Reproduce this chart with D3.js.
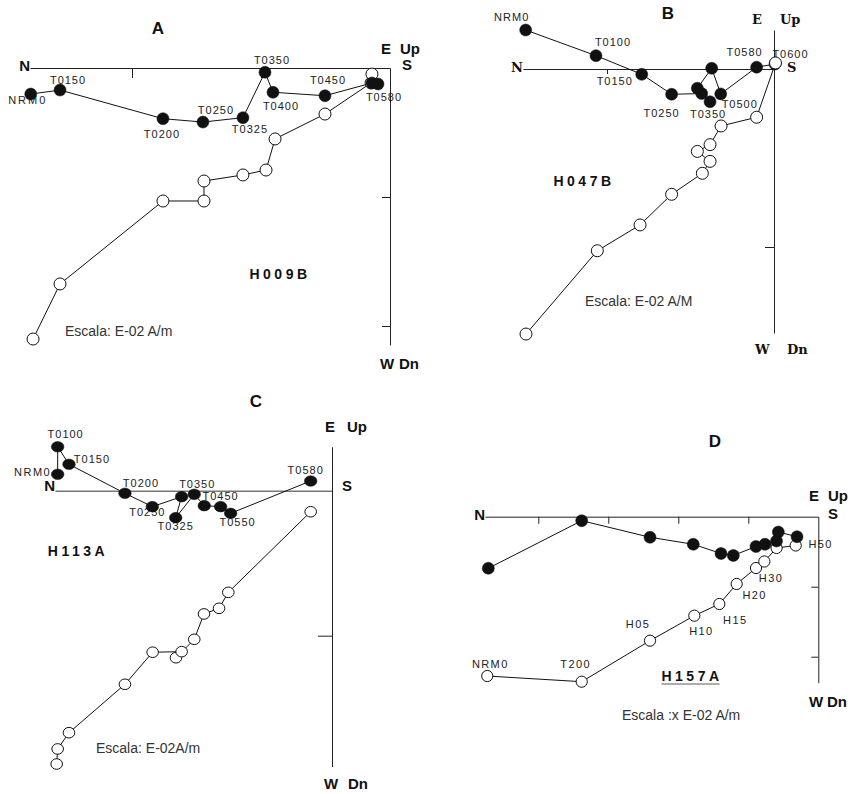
<!DOCTYPE html>
<html><head><meta charset="utf-8">
<script src="https://cdn.jsdelivr.net/npm/d3@7"></script>
<style>body{margin:0;background:#fff}svg{display:block}</style>
</head><body>
<svg id="chart" width="856" height="794"></svg>
<script>
// ---------------- DATA (units = one axis tick interval) ----------------
// N = distance toward North (left), W = toward West (down, horizontal projection), Dn = down (vertical projection)

// Panel A : H009B
const aHorizN  = [2.785,2.558,1.760,1.450,1.140,0.969,0.907,0.504,0.140,0.093];
const aHorizW  = [0.202,0.171,0.393,0.419,0.385,0.033,0.188,0.215,0.116,0.124];
const aVertN   = [2.767,2.558,1.760,1.442,1.442,1.140,0.961,0.891,0.504,0.147,0.140];
const aVertDn  = [2.101,1.674,1.031,1.031,0.876,0.829,0.791,0.550,0.357,0.116,0.047];
const aLabels  = ["NRM0","T0150","T0200","T0250","T0325","T0350","T0400","T0450","T0580"];
const aLabelPt = [0,1,2,3,4,5,6,7,9];
const aTicksX = [1,2], aTicksY = [1,2];

// Panel B : H047B
const bHorizN  = [1.487,1.066,0.792,0.613,0.433,0.383,0.459,0.373,0.319,0.104,-0.006];
const bHorizW  = [-0.219,-0.075,0.030,0.142,0.138,0.184,0.108,-0.004,0.140,-0.010,-0.028];
const bVertN   = [-0.009,0.104,0.317,0.383,0.459,0.383,0.429,0.613,0.802,1.058,1.485];
const bVertDn  = [-0.034,0.271,0.320,0.425,0.463,0.519,0.586,0.704,0.876,1.021,1.489];
const bLabels  = ["NRM0","T0100","T0150","T0250","T0350","T0500","T0580"];
const bLabelPt = [0,1,2,3,5,8,9];
const bOpenLabels = ["T0600"], bOpenLabelPt = [0];
const bTicksX = [1], bTicksY = [1];

// Panel C : H113A
const cHorizN  = [1.892,1.892,1.814,1.428,1.239,1.037,1.078,0.950,0.881,0.768,0.699,0.147];
const cHorizW  = [-0.113,-0.303,-0.182,0.018,0.110,0.041,0.186,0.025,0.103,0.110,0.156,-0.067];
const cVertN   = [0.147,0.715,0.779,0.883,0.950,1.076,1.037,1.237,1.428,1.814,1.892,1.899];
const cVertDn  = [0.145,0.701,0.811,0.850,1.025,1.152,1.110,1.114,1.335,1.669,1.781,1.885];
const cLabels  = ["NRM0","T0100","T0150","T0200","T0250","T0325","T0350","T0450","T0550","T0580"];
const cLabelPt = [0,1,2,3,4,6,7,9,10,11];
const cTicksX = [], cTicksY = [1];

// Panel D : H157A
const dHorizN  = [4.714,3.380,2.404,1.786,1.390,1.214,0.890,0.761,0.597,0.571,0.304];
const dHorizW  = [0.737,0.057,0.294,0.394,0.526,0.554,0.426,0.394,0.347,0.219,0.286];
const dVertN   = [4.729,3.380,2.404,1.771,1.414,1.166,0.890,0.771,0.596,0.323];
const dVertDn  = [2.276,2.357,1.771,1.414,1.247,0.961,0.733,0.640,0.447,0.411];
const dOpenLabels  = ["NRM0","T200","H05","H10","H15","H20","H30","H50"];
const dOpenLabelPt = [0,1,2,3,4,5,6,9];
const dTicksX = [1,2,3,4], dTicksY = [1,2];

// ---------------- LAYOUT ----------------
const SANS = "'Liberation Sans', Arial, sans-serif";
const SLAB = "'DejaVu Serif', 'Courier New', serif";

const panels = [
 { title:"A", sample:"H009B", escala:"Escala: E-02 A/m",
   hN:aHorizN, hW:aHorizW, vN:aVertN, vD:aVertDn,
   fLab:aLabels, fLabPt:aLabelPt, fOff:[[-3,7],[8,-9],[-1,16],[13,-11],[7,12],[7,-11],[8,15],[3,-15],[6,14]],
   oLab:[], oLabPt:[], oOff:[],
   tx:aTicksX, ty:aTicksY,
   L:{ox:390, oy:68, ux:129, uy:129, xMax:2.791, yMin:0, yMax:2.147, tlx:10, tly:8,
      fr:[6,6], or:[6,6], openOnTop:false, axisFont:SANS, axisSize:15, nrmSpacing:2,
      titleXY:[158,30], sampleXY:[280,275], escalaXY:[65,332],
      N:[30,67], E:[381,50], Up:[400,50], S:[402,66], W:[380,365], Dn:[399,365]} },
 { title:"B", sample:"H047B", escala:"Escala: E-02 A/M",
   hN:bHorizN, hW:bHorizW, vN:bVertN, vD:bVertDn,
   fLab:bLabels, fLabPt:bLabelPt, fOff:[[-14,-12],[17,-13],[-27,8],[-10,20],[-2,13],[19,11],[-12,-14]],
   oLab:bOpenLabels, oLabPt:bOpenLabelPt, oOff:[[15,-8]],
   tx:bTicksX, ty:bTicksY,
   L:{ox:774, oy:69, ux:167, uy:178, xMax:1.503, yMin:-0.219, yMax:1.483, tlx:5, tly:9,
      fr:[6,6], or:[6,6], openOnTop:true, axisFont:SLAB, axisSize:13, nrmSpacing:1,
      titleXY:[668,15], sampleXY:[584,182], escalaXY:[585,302],
      N:[523,68], E:[752,20], Up:[780,20], S:[787,68], W:[755,350], Dn:[787,350]} },
 { title:"C", sample:"H113A", escala:"Escala: E-02A/m",
   hN:cHorizN, hW:cHorizW, vN:cVertN, vD:cVertDn,
   fLab:cLabels, fLabPt:cLabelPt, fOff:[[-25,-1],[8,-12],[23,-4],[16,-9],[-5,6],[0,9],[3,-9],[0,-10],[7,10],[-5,-10]],
   oLab:[], oLabPt:[], oOff:[],
   tx:cTicksX, ty:cTicksY,
   L:{ox:332, oy:490.7, ux:145, uy:145, xMax:1.910, yMin:-0.303, yMax:1.903, tlx:0, tly:14,
      fr:[6.3,5.3], or:[5.8,5.3], openOnTop:false, axisFont:SANS, axisSize:15, nrmSpacing:1.5, hAxisColor:"#777",
      titleXY:[256,403], sampleXY:[78,552], escalaXY:[96,749],
      N:[55,487], E:[325,428], Up:[347,428], S:[342,487], W:[324,785], Dn:[348,785]} },
 { title:"D", sample:"H157A", escala:"Escala :x E-02 A/m",
   hN:dHorizN, hW:dHorizW, vN:dVertN, vD:dVertDn,
   fLab:[], fLabPt:[], fOff:[],
   oLab:dOpenLabels, oLabPt:dOpenLabelPt, oOff:[[3,-11],[-6,-17],[-12,-16],[7,16],[16,17],[18,12],[15,11],[25,0]],
   tx:dTicksX, ty:dTicksY,
   L:{ox:818.3, oy:516.7, ux:70, uy:70, xMax:4.761, yMin:0, yMax:2.371, tlx:7, tly:7,
      fr:[6,6], or:[5.6,5.6], openOnTop:false, axisFont:SANS, axisSize:15, nrmSpacing:1.4, underline:true,
      titleXY:[715,443], sampleXY:[692,677], escalaXY:[622,716],
      N:[485,516], E:[809,497], Up:[828,497], S:[828,515], W:[809,703], Dn:[827,703]} }
];

const svg = d3.select("#chart");

panels.forEach(p => {
  const L = p.L;
  const g = svg.append("g");
  // scales: domain in tick units -> pixels
  const xs = d3.scaleLinear().domain([L.xMax, 0]).range([L.ox - L.xMax*L.ux, L.ox]);
  const ys = d3.scaleLinear().domain([L.yMin, L.yMax]).range([L.oy + L.yMin*L.uy, L.oy + L.yMax*L.uy]);

  // axes
  const ax = g.append("g").attr("transform", `translate(0,${ys(0)})`)
    .call(d3.axisBottom(xs).tickValues(p.tx).tickSize(L.tlx).tickSizeOuter(0).tickFormat(""));
  ax.selectAll("path,line").attr("stroke", L.hAxisColor || "#222").attr("stroke-width", L.hAxisColor ? 1.4 : 1);
  const ay = g.append("g").attr("transform", `translate(${xs(0)},0)`)
    .call(d3.axisLeft(ys).tickValues(p.ty).tickSize(L.tly).tickSizeOuter(0).tickFormat(""));
  ay.selectAll("path,line").attr("stroke", "#222").attr("stroke-width", 1);

  // axis direction labels
  const axTxt = (txt, pos, anchor) => g.append("text").attr("x", pos[0]).attr("y", pos[1])
    .attr("dominant-baseline","middle").attr("text-anchor", anchor||"start")
    .attr("font-family", L.axisFont).attr("font-weight","bold").attr("font-size", L.axisSize)
    .attr("fill","#111").text(txt);
  axTxt("N", L.N, "end"); axTxt("E", L.E); axTxt("Up", L.Up); axTxt("S", L.S); axTxt("W", L.W); axTxt("Dn", L.Dn);

  // title, sample name, scale note
  g.append("text").attr("x", L.titleXY[0]).attr("y", L.titleXY[1]).attr("text-anchor","middle")
    .attr("dominant-baseline","middle").attr("font-family", SANS).attr("font-weight","bold")
    .attr("font-size", 17).attr("fill","#111").text(p.title);
  const st = g.append("text").attr("x", L.sampleXY[0]).attr("y", L.sampleXY[1]).attr("text-anchor","middle")
    .attr("dominant-baseline","middle").attr("font-family", SANS).attr("font-weight","bold")
    .attr("font-size", 14).attr("letter-spacing", 3.5).attr("fill","#111").text(p.sample);
  if (L.underline) {
    const bb = st.node().getBBox();
    g.append("line").attr("x1", bb.x).attr("x2", bb.x + bb.width - 3)
      .attr("y1", L.sampleXY[1] + 7).attr("y2", L.sampleXY[1] + 7).attr("stroke","#333").attr("stroke-width",0.8);
  }
  g.append("text").attr("x", L.escalaXY[0]).attr("y", L.escalaXY[1])
    .attr("dominant-baseline","middle").attr("font-family", SANS)
    .attr("font-size", 14).attr("fill","#333").text(p.escala);

  // point sets
  const filled = p.hN.map((n,i) => [xs(n), ys(p.hW[i])]);
  const open = p.vN.map((n,i) => [xs(n), ys(p.vD[i])]);

  // step labels (drawn under marks)
  const lab = (texts, idx, offs, pts) => texts.forEach((t,k) => {
    const pt = pts[idx[k]];
    g.append("text").attr("x", pt[0] + offs[k][0]).attr("y", pt[1] + offs[k][1])
      .attr("text-anchor","middle").attr("dominant-baseline","middle")
      .attr("font-family", SANS).attr("font-size", 11)
      .attr("letter-spacing", t.startsWith("NRM") ? L.nrmSpacing : (t.startsWith("H")||t==="T200" ? 1.4 : 1))
      .attr("fill","#222").text(t);
  });
  lab(p.fLab, p.fLabPt, p.fOff, filled);
  lab(p.oLab, p.oLabPt, p.oOff, open);

  const line = d3.line();
  g.append("path").attr("d", line(open)).attr("fill","none").attr("stroke","#111").attr("stroke-width",1);
  g.append("path").attr("d", line(filled)).attr("fill","none").attr("stroke","#111").attr("stroke-width",1);

  const drawOpen = () => g.append("g").selectAll("ellipse").data(open).join("ellipse")
    .attr("cx", d => d[0]).attr("cy", d => d[1]).attr("rx", L.or[0]).attr("ry", L.or[1])
    .attr("fill","#fff").attr("stroke","#111").attr("stroke-width",1);
  const drawFilled = () => g.append("g").selectAll("ellipse").data(filled).join("ellipse")
    .attr("cx", d => d[0]).attr("cy", d => d[1]).attr("rx", L.fr[0]).attr("ry", L.fr[1])
    .attr("fill","#111").attr("stroke","#111").attr("stroke-width",0.5);
  if (L.openOnTop) { drawFilled(); drawOpen(); } else { drawOpen(); drawFilled(); }
});
</script>
</body></html>
